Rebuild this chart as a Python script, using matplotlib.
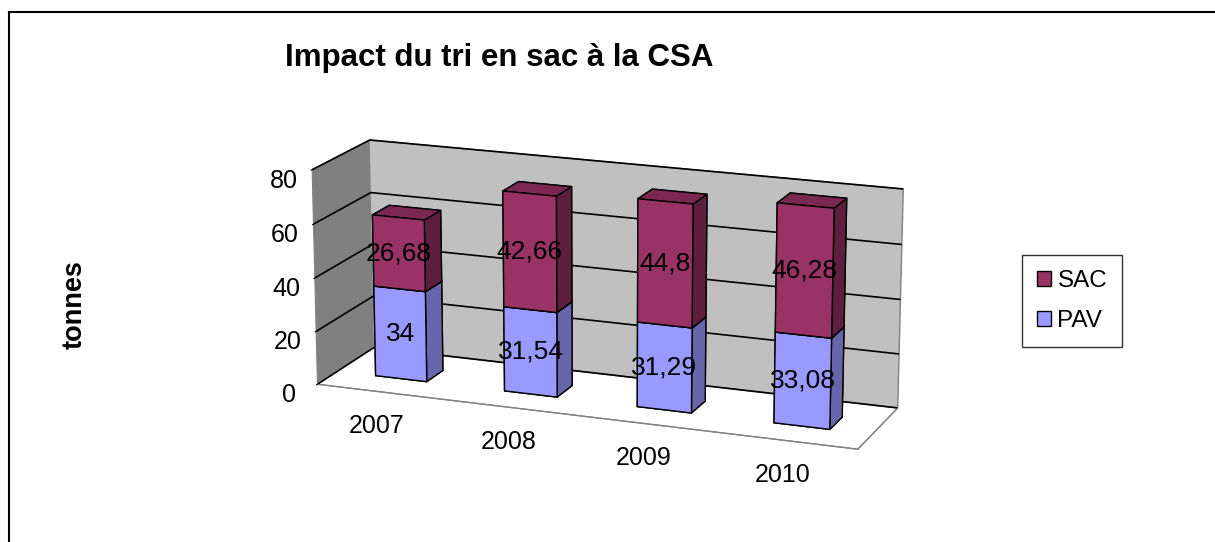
import matplotlib
matplotlib.use('Agg')
import matplotlib.pyplot as plt
import numpy as np
from matplotlib.patches import Patch
from matplotlib.lines import Line2D

years = ['2007', '2008', '2009', '2010']
pav = [34, 31.54, 31.29, 33.08]
sac = [26.68, 42.66, 44.8, 46.28]
pav_labels = ['34', '31,54', '31,29', '33,08']
sac_labels = ['26,68', '42,66', '44,8', '46,28']
value_ticks = [0, 20, 40, 60, 80]

plt.rcParams['font.family'] = ['Liberation Sans', 'DejaVu Sans']

SAC_C = ('#993366', '#7a2851', '#5e1f3f')   # front, top, side
PAV_C = ('#9999ff', '#8080d8', '#6666aa')

W, H = 1215, 542
S = 620
cx, cy = 596, 297
fig = plt.figure(figsize=(W / 100, H / 100), dpi=100)
ax = fig.add_axes([(cx - S / 2) / W, 1 - (cy + S / 2) / H, S / W, S / H],
                  projection='3d')
ax.set_proj_type('persp', focal_length=1.0)
ax.view_init(elev=16, azim=-69)
ax.set_box_aspect((2.6, 0.62, 1.02), zoom=0.99)

n = len(years)
bw, bd = 0.4, 0.3
xs = np.arange(n) + (1 - bw) / 2
ys = np.full(n, (1 - bd) / 2)


def face_colors(c):
    front, top, side = c
    # order: -z, +z, -y, +y, -x, +x
    return [front, top, front, front, front, side] * n


ax.bar3d(xs, ys, np.zeros(n), bw, bd, pav, color=face_colors(PAV_C),
         shade=False, edgecolor='black', linewidth=1.0)
ax.bar3d(xs, ys, pav, bw, bd, sac, color=face_colors(SAC_C),
         shade=False, edgecolor='black', linewidth=1.0)

for i in range(n):
    ax.text(i + 0.5, ys[i], pav[i] / 2, pav_labels[i], ha='center', va='center',
            fontsize=19, zorder=100)
    ax.text(i + 0.5, ys[i], pav[i] + sac[i] / 2, sac_labels[i], ha='center',
            va='center', fontsize=19, zorder=100)

ax.set_xlim(0, n)
ax.set_ylim(0, 1)
ax.set_zlim(0, 80)
ax.set_xticks(np.arange(n) + 0.5)
ax.set_xticklabels(years, fontsize=18)
ax.set_yticks([])
ax.set_zticks(value_ticks)
ax.set_zticklabels([str(v) for v in value_ticks], fontsize=18)
ax.zaxis.set_ticks_position('lower')
ax.tick_params(axis='x', pad=12)

ax.xaxis.set_pane_color('#808080')
ax.yaxis.set_pane_color('#c0c0c0')
ax.zaxis.set_pane_color('white')
for a in (ax.xaxis, ax.yaxis, ax.zaxis):
    a.pane.set_edgecolor('#808080')
    a.line.set_color('#808080')
    a.label.set_visible(False)
    a.offsetText.set_visible(False)
ax.xaxis._axinfo['grid']['color'] = (0, 0, 0, 0)
ax.yaxis._axinfo['grid']['color'] = (0, 0, 0, 0)
ax.zaxis._axinfo['grid']['color'] = 'black'
ax.zaxis._axinfo['grid']['linewidth'] = 1.2
ax.xaxis._axinfo['tick']['inward_factor'] = 0
ax.xaxis._axinfo['tick']['outward_factor'] = 0

fig.text(499 / W, 1 - 58 / H, 'Impact du tri en sac à la CSA', ha='center',
         va='center', fontsize=22.5, fontweight='bold')
fig.text(75 / W, 1 - 305 / H, 'tonnes', rotation=90, ha='center', va='center',
         fontsize=19.5, fontweight='bold')

handles = [Patch(facecolor=SAC_C[0], edgecolor='black', label='SAC'),
           Patch(facecolor=PAV_C[0], edgecolor='black', label='PAV')]
fig.legend(handles=handles, loc='center', bbox_to_anchor=(1072 / W, 1 - 301 / H),
           fontsize=17.5, frameon=True, fancybox=False, edgecolor='black',
           handlelength=0.6, handleheight=0.6, handletextpad=0.25,
           labelspacing=0.75, borderpad=0.6)

fig.add_artist(Line2D([9 / W, 1], [1 - 12 / H] * 2, color='black', lw=1.5))
fig.add_artist(Line2D([9 / W] * 2, [0, 1 - 12 / H], color='black', lw=1.5))

fig.savefig('out.png', dpi=100)
